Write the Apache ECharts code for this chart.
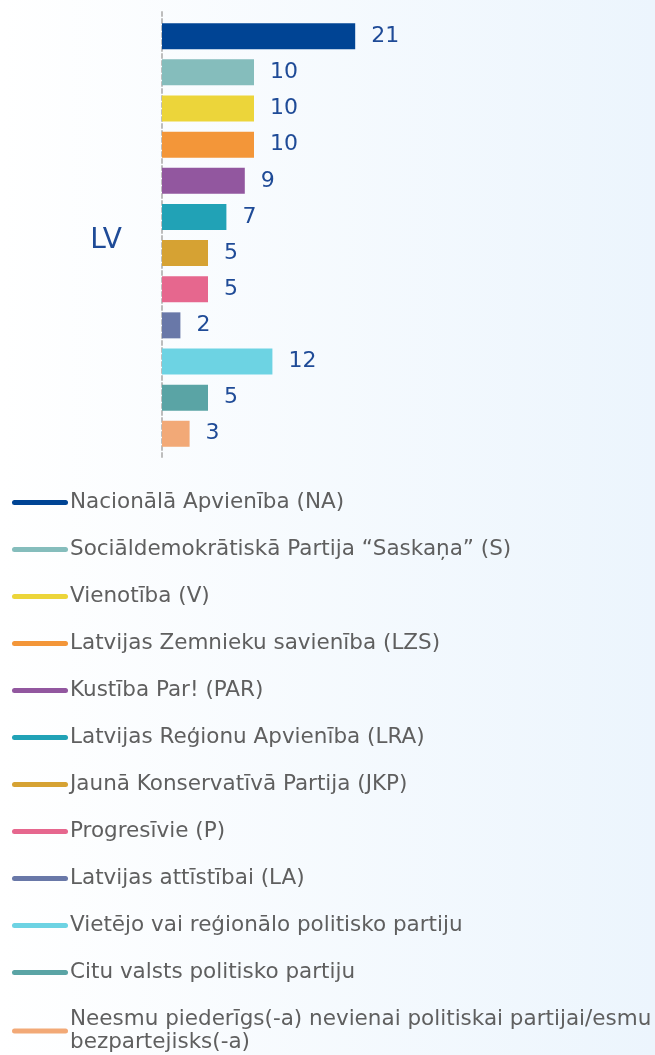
<!DOCTYPE html>
<html>
<head>
<meta charset="utf-8">
<script src="https://cdn.jsdelivr.net/npm/echarts@6/dist/echarts.min.js"></script>
<style>
  html, body { margin: 0; padding: 0; }
  #chart { width: 655px; height: 1055px; }
</style>
</head>
<body>
<div id="chart"></div>
<script>
// kategorija (tikai viena)
const categories = ['LV'];

// partijas un vērtības (%)
const partyNames = [
    'Nacionālā Apvienība (NA)',
    'Sociāldemokrātiskā Partija “Saskaņa” (S)',
    'Vienotība (V)',
    'Latvijas Zemnieku savienība (LZS)',
    'Kustība Par! (PAR)',
    'Latvijas Reģionu Apvienība (LRA)',
    'Jaunā Konservatīvā Partija (JKP)',
    'Progresīvie (P)',
    'Latvijas attīstībai (LA)',
    'Vietējo vai reģionālo politisko partiju',
    'Citu valsts politisko partiju',
    'Neesmu piederīgs(-a) nevienai politiskai partijai/esmu bezpartejisks(-a)'
];
const partyValues = [21, 10, 10, 10, 9, 7, 5, 5, 2, 12, 5, 3];
const partyColors = [
    '#004494', '#85bdbc', '#ecd53a', '#f39639', '#92579f', '#21a2b6',
    '#d6a233', '#e6678e', '#6978a8', '#6dd3e3', '#5aa4a5', '#f2a977'
];

const chart = echarts.init(document.getElementById('chart'));

// katra partija ir atsevišķa sērija
const series = partyNames.map((name, i) => ({
    name: name,
    type: 'bar',
    data: [partyValues[i]],
    barWidth: 26,
    barGap: '39%',
    itemStyle: { color: partyColors[i] },
    label: {
        show: true,
        position: 'right',
        distance: 16,
        color: '#1f4b97',
        fontSize: 22,
        fontFamily: 'DejaVu Sans'
    }
}));

const option = {
    backgroundColor: new echarts.graphic.LinearGradient(0, 0, 1, 0, [
        { offset: 0, color: '#ffffff' },
        { offset: 1, color: '#ecf5fd' }
    ]),
    animation: false,
    grid: { left: 162, top: 12, width: 368, height: 446 },
    xAxis: {
        type: 'value',
        min: 0,
        max: 40,
        show: false
    },
    yAxis: {
        type: 'category',
        inverse: true,
        data: categories,
        axisLine: { show: true, lineStyle: { color: '#bdbdbd', width: 2, type: [4, 3] } },
        axisTick: { show: false },
        axisLabel: {
            margin: 40,
            formatter: '{lv|{value}}',
            rich: {
                lv: {
                    color: '#1f4b97',
                    fontSize: 28,
                    fontFamily: 'DejaVu Sans',
                    padding: [12, 0, 0, 0]
                }
            }
        }
    },
    legend: {
        orient: 'vertical',
        left: 12,
        top: 491,
        height: 620,
        padding: 0,
        itemGap: 24,
        itemWidth: 56,
        itemHeight: 5,
        icon: 'path://M2.5,0 L53.5,0 A2.5,2.5 0 0 1 53.5,5 L2.5,5 A2.5,2.5 0 0 1 2.5,0 Z',
        textStyle: {
            color: '#5f5f5f',
            fontSize: 21.5,
            lineHeight: 23,
            fontFamily: 'DejaVu Sans',
            padding: [0, 0, 0, -3],
            width: 615,
            overflow: 'break'
        },
        data: partyNames
    },
    series: series
};

chart.setOption(option);
</script>
</body>
</html>
